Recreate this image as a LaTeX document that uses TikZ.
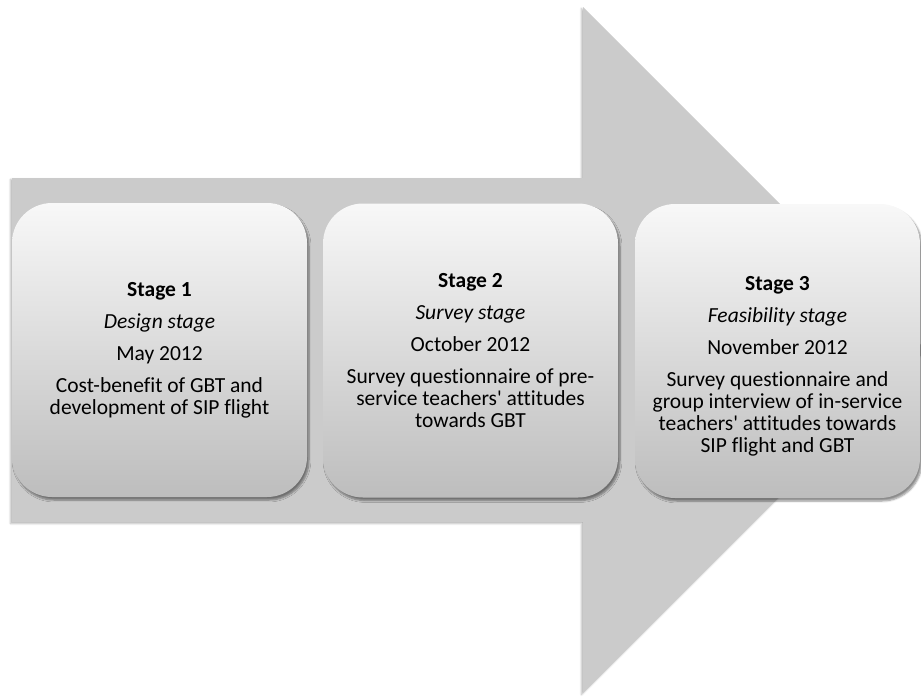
\documentclass[tikz,border=0pt]{standalone}
\usepackage{fontspec}
\setmainfont{Carlito}[Ligatures=NoCommon]
\usetikzlibrary{shapes,arrows,shadows.blur}

\definecolor{arrowgray}{HTML}{CBCBCB}
\definecolor{boxtop}{HTML}{F8F8F8}
\definecolor{boxbottom}{HTML}{BDBDBD}

\begin{document}
\begin{tikzpicture}[x=1pt, y=-1pt]
		\tikzstyle {stage box} = [rounded corners=40pt, minimum width=295pt, minimum height=294pt, top color=boxtop, bottom color=boxbottom, align=center, inner sep=0pt, font=\fontsize{21.5}{22}\selectfont, blur shadow={shadow xshift=2pt, shadow yshift=-3pt, shadow blur steps=6, shadow opacity=45}]
		\tikzstyle {big arrow} = [fill=arrowgray, blur shadow={shadow xshift=-1.5pt, shadow yshift=-1.5pt, shadow blur steps=4, shadow opacity=30}]

		\useasboundingbox (0,0) rectangle (921,699);

		\fill[big arrow] (12,178) -- (583,178) -- (583,7) -- (926,350) -- (583,693) -- (583,522) -- (12,522) -- cycle;

		\node[stage box] (stage1) at (159.5,350) {\textbf{Stage 1}\\[10pt] \textit{Design stage}\\[10pt] May 2012\\[10pt] Cost-benefit of GBT and\\ development of SIP flight};
		\node[stage box] (stage2) at (470.5,350.5) {\textbf{Stage 2}\\[10pt] \textit{Survey stage}\\[10pt] October 2012\\[10pt] Survey questionnaire of pre-\\ service teachers\textquotesingle{} attitudes\\ towards GBT};
		\node[stage box, minimum width=285pt] (stage3) at (777.5,351) {\mbox{}\\[22pt]\textbf{Stage 3}\\[10pt] \textit{Feasibility stage}\\[10pt] November 2012\\[10pt] Survey questionnaire and\\ group interview of in-service\\ teachers\textquotesingle{} attitudes towards\\ SIP flight and GBT};

	\end{tikzpicture}
\end{document}
